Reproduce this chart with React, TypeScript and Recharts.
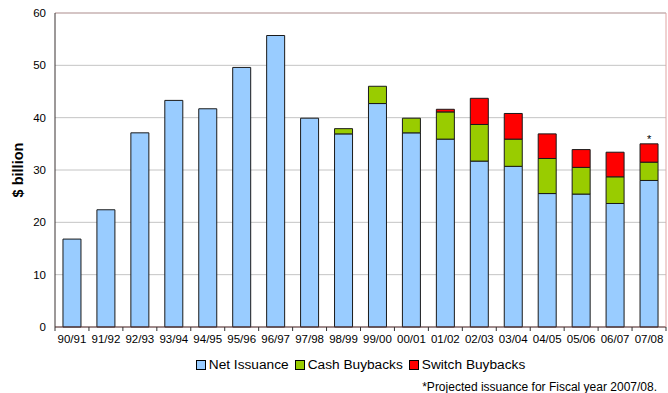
import React from 'react';
import { BarChart, Bar, XAxis, YAxis, CartesianGrid, ReferenceLine, LabelList } from 'recharts';

const categories = ['90/91', '91/92', '92/93', '93/94', '94/95', '95/96', '96/97', '97/98', '98/99', '99/00', '00/01', '01/02', '02/03', '03/04', '04/05', '05/06', '06/07', '07/08'];
const netIssuance = [16.8, 22.4, 37.1, 43.3, 41.7, 49.6, 55.7, 39.9, 36.9, 42.7, 37.1, 35.9, 31.7, 30.7, 25.5, 25.4, 23.6, 28.0];
const cashBuybacks = [0, 0, 0, 0, 0, 0, 0, 0, 1.0, 3.3, 2.8, 5.2, 7.0, 5.2, 6.7, 5.1, 5.1, 3.5];
const switchBuybacks = [0, 0, 0, 0, 0, 0, 0, 0, 0, 0, 0, 0.5, 5.0, 4.9, 4.7, 3.4, 4.7, 3.5];
// "*" marks the projected year
const notes = ['', '', '', '', '', '', '', '', '', '', '', '', '', '', '', '', '', '*'];
const yTicks = [0, 10, 20, 30, 40, 50, 60];

const series = [
  { key: 'net', name: 'Net Issuance', color: '#99ccff' },
  { key: 'cash', name: 'Cash Buybacks', color: '#99cc00' },
  { key: 'switch', name: 'Switch Buybacks', color: '#ff0000' },
];

const data = categories.map((year, i) => ({
  year,
  net: netIssuance[i],
  cash: cashBuybacks[i],
  switch: switchBuybacks[i],
  note: notes[i],
}));

const FONT = "Arial, 'Liberation Sans', sans-serif";
const TICK_SIZE = 4;
const TICK_MARGIN = 4;

// category labels, with tick marks on the boundaries between categories
const YearTick = (props: any) => {
  const { x, y, payload, index, width } = props;
  const band = (width ?? 611) / categories.length;
  const y1 = y - TICK_MARGIN - TICK_SIZE;
  const y2 = y - TICK_MARGIN;
  return (
    <g>
      <line x1={x - band / 2} x2={x - band / 2} y1={y1} y2={y2} stroke="#333" />
      {index === categories.length - 1 && (
        <line x1={x + band / 2} x2={x + band / 2} y1={y1} y2={y2} stroke="#333" />
      )}
      <text x={x} y={y} dy="0.71em" textAnchor="middle" fontSize={11.5} fill="#000" fontFamily={FONT}>
        {payload.value}
      </text>
    </g>
  );
};

const NoteMark = (props: any) => {
  const { x, y, width, value } = props;
  if (!value) return null;
  return (
    <text x={Number(x) + Number(width) / 2} y={Number(y) - 1} textAnchor="middle" fontSize={11} fill="#000" fontFamily={FONT}>
      {value}
    </text>
  );
};

export default function App() {
  return (
    <div style={{ position: 'absolute', left: 0, top: 0, width: 668, height: 393, background: '#fff', fontFamily: FONT }}>
      <BarChart
        width={668}
        height={393}
        data={data}
        margin={{ top: 13, right: 0, left: 0, bottom: 36 }}
        barCategoryGap="23.5%"
      >
        <CartesianGrid vertical={false} stroke="#c4c4c4" />
        <XAxis
          dataKey="year"
          height={30}
          tickLine={false}
          tickSize={TICK_SIZE}
          tickMargin={TICK_MARGIN}
          axisLine={{ stroke: '#5c3333' }}
          tick={<YearTick />}
          interval={0}
        />
        <YAxis
          width={55}
          domain={[0, 60]}
          ticks={yTicks}
          tickLine={false}
          tickSize={6}
          tickMargin={3}
          axisLine={{ stroke: '#3a3333' }}
          tick={{ fontSize: 11.5, fill: '#000', fontFamily: FONT }}
          label={{
            value: '$ billion',
            angle: -90,
            position: 'insideLeft',
            offset: 18,
            style: { fontSize: 14.5, fontWeight: 'bold', fill: '#000', fontFamily: FONT, textAnchor: 'middle' },
          }}
        />
        <YAxis yAxisId="frame" orientation="right" width={2} domain={[0, 60]} tick={false} tickLine={false} axisLine={{ stroke: '#e0a4a4' }} />
        <ReferenceLine y={60} stroke="#c9a9a9" ifOverflow="extendDomain" />
        {series.map((s, i) => (
          <Bar
            key={s.key}
            dataKey={s.key}
            name={s.name}
            stackId="a"
            fill={s.color}
            stroke="#1a1a1a"
            strokeWidth={1}
            isAnimationActive={false}
          >
            {i === series.length - 1 && <LabelList dataKey="note" content={NoteMark} />}
          </Bar>
        ))}
      </BarChart>

      <div
        style={{
          position: 'absolute',
          left: 55,
          width: 611,
          top: 356,
          display: 'flex',
          justifyContent: 'center',
          alignItems: 'center',
          fontSize: 13.7,
          lineHeight: '18px',
          color: '#000',
        }}
      >
        {series.map((s) => (
          <div key={s.key} style={{ display: 'flex', alignItems: 'center', margin: '0 3px' }}>
            <span style={{ width: 8, height: 8, border: '1px solid #000', background: s.color, marginRight: 3 }} />
            <span>{s.name}</span>
          </div>
        ))}
      </div>

      <div style={{ position: 'absolute', right: 11, top: 379, fontSize: 12, lineHeight: '16px', color: '#000' }}>
        *Projected issuance for Fiscal year 2007/08.
      </div>
    </div>
  );
}
